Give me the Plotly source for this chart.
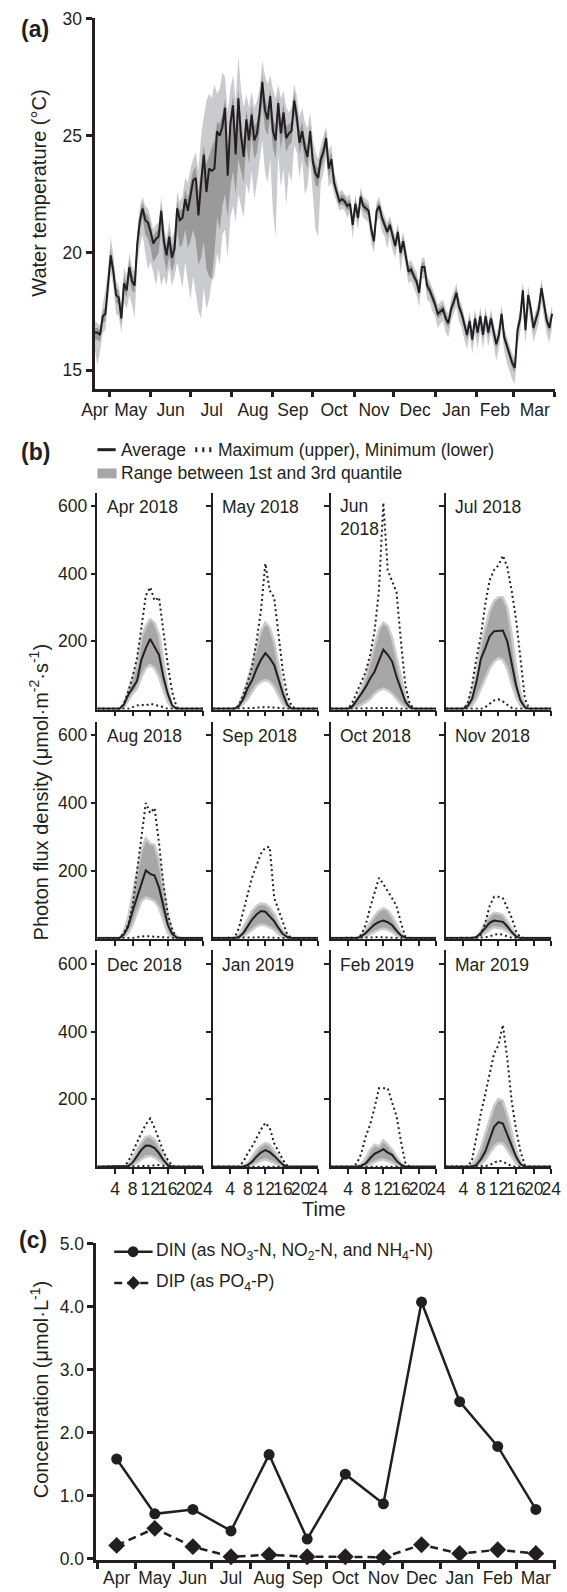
import plotly.graph_objects as go
import pandas as pd

W, H = 567, 1592
FONT = "Liberation Sans, Arial, Helvetica, sans-serif"
INK = "#231f20"

# ---------------- (a) water temperature, values every 2 days from 2018-04-20 ----------------
TEMP_START = "2018-04-20"
temp_mean = [16.6,16.6,16.5,17.3,17.4,18.6,19.9,19.2,18.2,18.1,
             17.2,18.7,18.4,19.4,18.8,18.6,20.4,21.4,21.9,21.4,
             21.3,20.9,20.4,20.6,20.7,21.8,20.5,19.9,20.7,19.8,
             20.2,21.9,21.4,21.5,22.3,21.8,22.5,23.1,23.2,21.6,
             23.0,24.2,22.6,23.6,23.5,23.6,25.2,25.0,25.4,26.2,
             23.3,25.5,26.3,24.2,26.6,25.0,24.1,25.7,24.8,25.9,
             24.8,25.1,26.0,27.3,26.1,25.7,26.7,25.2,24.8,26.4,
             25.1,26.0,24.9,25.1,25.2,26.5,25.8,24.7,25.2,24.5,
             24.1,25.2,23.9,23.4,23.2,24.0,24.3,24.9,23.6,24.0,
             23.0,22.6,22.2,22.3,22.2,22.0,22.1,21.2,22.1,21.5,
             22.4,22.0,21.9,21.8,21.0,20.5,21.8,22.0,21.5,21.2,
             20.9,21.2,20.8,20.3,20.9,20.0,20.5,19.8,19.2,19.3,
             19.0,18.8,18.3,19.4,19.4,18.6,18.4,18.1,17.8,17.4,
             17.5,17.6,17.2,17.0,17.6,17.9,18.3,17.7,17.4,16.9,
             16.5,17.1,16.3,17.2,16.6,17.3,16.5,17.3,16.6,17.2,
             16.6,16.1,16.5,17.4,16.4,16.0,15.6,15.3,15.1,16.7,
             17.2,18.4,16.7,18.2,17.6,16.8,17.2,17.6,18.5,17.7,
             17.1,16.8,17.4]
temp_q1 = [16.3,16.3,16.2,17.0,17.1,18.3,19.6,18.9,17.9,17.8,
           16.9,18.4,18.1,19.0,18.4,18.3,20.0,21.0,21.5,20.8,
           20.6,20.2,19.6,19.8,20.0,21.0,19.8,19.2,19.9,19.2,
           19.6,21.0,20.2,20.4,21.0,20.2,20.5,21.0,20.5,19.5,
           19.8,20.5,19.3,19.0,18.9,20.0,21.5,21.0,22.0,22.5,
           21.5,22.8,23.5,22.5,24.0,23.5,23.0,24.6,23.8,25.0,
           24.0,24.3,25.2,26.4,25.3,25.0,25.8,24.5,24.0,25.6,
           24.4,25.2,24.3,24.6,24.7,25.9,25.3,24.2,24.7,23.9,
           23.6,24.8,23.5,22.9,22.8,23.6,23.9,24.5,23.2,23.6,
           22.8,22.4,22.0,22.1,22.0,21.8,21.9,21.0,21.9,21.3,
           22.2,21.8,21.7,21.6,20.8,20.3,21.6,21.8,21.3,21.0,
           20.7,21.0,20.6,20.1,20.7,19.8,20.3,19.6,19.0,19.1,
           18.8,18.6,18.1,19.2,19.2,18.4,18.2,17.9,17.6,17.2,
           17.3,17.4,17.0,16.8,17.4,17.7,18.1,17.5,17.2,16.7,
           16.3,16.9,16.1,17.0,16.4,17.1,16.3,17.1,16.4,17.0,
           16.4,15.9,16.3,17.2,16.2,15.8,15.4,15.1,14.9,16.5,
           17.0,18.2,16.5,18.0,17.4,16.6,17.0,17.4,18.3,17.5,
           16.9,16.6,17.2]
temp_q3 = [16.8,16.8,16.7,17.5,17.7,18.9,20.2,19.5,18.5,18.4,
           17.5,19.0,18.7,19.7,19.1,18.9,20.7,21.7,22.2,21.7,
           21.6,21.2,20.7,20.9,21.0,22.1,20.8,20.3,21.0,20.2,
           20.6,22.2,21.8,21.9,22.7,22.3,23.0,23.5,23.7,22.6,
           23.6,24.6,23.8,24.2,24.5,24.8,25.6,25.5,25.9,26.6,
           24.5,26.0,26.7,25.2,27.0,25.6,24.8,26.1,25.4,26.3,
           25.4,25.6,26.4,27.6,26.6,26.2,27.0,25.8,25.4,26.8,
           25.6,26.4,25.4,25.5,25.6,26.9,26.2,25.2,25.6,24.9,
           24.5,25.5,24.3,23.8,23.6,24.3,24.6,25.2,24.0,24.3,
           23.3,22.8,22.4,22.5,22.4,22.2,22.3,21.4,22.3,21.7,
           22.6,22.2,22.1,22.0,21.2,20.7,22.0,22.2,21.7,21.4,
           21.1,21.4,21.0,20.5,21.1,20.2,20.7,20.0,19.4,19.5,
           19.2,19.0,18.5,19.6,19.6,18.8,18.6,18.3,18.0,17.6,
           17.7,17.8,17.4,17.2,17.8,18.1,18.5,17.9,17.6,17.1,
           16.7,17.3,16.5,17.4,16.8,17.5,16.7,17.5,16.8,17.4,
           16.8,16.3,16.7,17.6,16.6,16.2,15.8,15.5,15.3,16.9,
           17.4,18.6,16.9,18.4,17.8,17.0,17.4,17.8,18.7,17.9,
           17.3,17.0,17.6]
temp_min = [15.9,15.2,15.8,16.6,16.7,17.9,19.2,18.5,17.4,17.3,
            16.6,17.9,17.6,18.2,17.8,17.2,19.5,20.3,20.8,20.0,
            19.3,19.6,19.2,18.6,19.3,18.6,19.0,18.6,19.4,18.6,
            19.0,19.6,19.0,18.5,19.6,18.8,18.0,19.0,18.2,17.5,
            17.2,18.5,17.6,18.0,18.8,19.0,20.0,19.5,20.8,21.0,
            19.8,21.5,22.0,21.3,22.5,22.0,21.5,23.0,22.5,23.5,
            22.3,23.0,24.0,24.8,23.5,23.0,24.0,21.8,20.7,24.2,
            22.8,23.6,22.0,23.5,23.0,24.6,24.3,23.2,24.0,22.5,
            22.8,24.0,22.5,21.0,20.7,23.0,23.4,24.1,22.8,23.0,
            22.5,22.1,21.8,21.9,21.8,21.5,21.7,20.6,21.6,21.0,
            21.9,21.5,21.4,21.3,20.4,20.0,21.3,21.5,20.9,20.7,
            20.2,20.7,20.1,19.8,20.4,19.2,20.0,19.3,18.7,18.8,
            18.5,18.2,17.7,18.9,18.9,18.0,17.9,17.5,17.3,16.8,
            17.0,17.1,16.6,16.4,17.1,17.4,17.7,17.1,16.8,16.3,
            15.9,16.5,15.7,16.6,15.9,16.7,15.9,16.7,16.0,16.6,
            16.1,15.4,15.9,16.8,15.8,15.3,14.9,14.6,14.4,16.0,
            16.6,17.8,16.1,17.6,17.0,16.2,16.6,17.0,17.9,17.1,
            16.5,16.2,16.8]
temp_max = [17.1,17.0,16.9,17.8,18.4,19.3,20.7,19.9,18.8,18.6,
            17.8,19.4,19.0,20.0,19.4,19.2,21.0,22.0,22.4,22.0,
            21.9,21.5,21.0,21.2,21.3,22.4,21.1,20.6,21.4,20.6,
            21.0,22.6,22.2,22.4,23.2,23.0,23.6,24.0,24.3,23.5,
            25.0,25.8,26.5,26.8,26.6,27.2,26.8,27.0,27.7,27.5,
            26.0,27.0,27.6,26.5,28.4,27.0,26.2,26.8,26.2,26.9,
            26.2,26.5,27.0,28.2,27.6,27.2,27.6,27.0,26.6,27.2,
            26.6,26.9,26.2,26.0,26.2,27.2,26.7,25.8,26.2,25.6,
            25.3,26.0,24.9,24.3,24.0,24.6,25.0,25.4,24.4,24.6,
            23.5,23.0,22.6,22.7,22.5,22.4,22.5,21.6,22.5,21.9,
            22.8,22.4,22.3,22.2,21.4,20.9,22.2,22.4,21.9,21.6,
            21.3,21.6,21.2,20.7,21.3,20.4,20.9,20.2,19.6,19.7,
            19.4,19.2,18.7,19.8,19.8,19.0,18.8,18.5,18.2,17.8,
            17.9,18.0,17.6,17.4,18.0,18.4,18.7,18.1,17.8,17.3,
            16.9,17.5,16.7,17.6,17.0,17.7,16.9,17.7,17.0,17.6,
            17.0,16.5,16.9,17.8,16.8,16.4,16.0,15.7,15.5,17.1,
            17.6,18.8,17.1,18.6,18.0,17.2,17.6,18.0,18.9,18.1,
            17.5,17.2,17.8]
temp_month_starts = ["2018-05-01","2018-06-01","2018-07-01","2018-08-01","2018-09-01","2018-10-01",
                     "2018-11-01","2018-12-01","2019-01-01","2019-02-01","2019-03-01","2019-04-01"]
temp_label_dates = ["2018-04-20","2018-05-17","2018-06-16","2018-07-17","2018-08-17","2018-09-16",
                    "2018-10-17","2018-11-16","2018-12-17","2019-01-17","2019-02-15","2019-03-17"]
temp_label_text = ["Apr","May","Jun","Jul","Aug","Sep","Oct","Nov","Dec","Jan","Feb","Mar"]
temp_yticks = [15, 20, 25, 30]

# ---------------- (b) photon flux density, hourly 0..24 ----------------
pfd_months = ["Apr 2018","May 2018","Jun<br>2018","Jul 2018","Aug 2018","Sep 2018",
              "Oct 2018","Nov 2018","Dec 2018","Jan 2019","Feb 2019","Mar 2019"]
hours = list(range(25))
pfd_mean = [
    [0,0,0,0,0,0,12,41,62,82,145,180,207,185,160,95,45,10,0,0,0,0,0,0,0],
    [0,0,0,0,0,0,8,30,62,85,118,145,165,150,130,85,45,12,0,0,0,0,0,0,0],
    [0,0,0,0,0,8,25,45,65,90,110,145,175,160,140,95,55,22,5,0,0,0,0,0,0],
    [0,0,0,0,0,8,30,80,148,180,215,230,232,232,200,130,70,25,5,0,0,0,0,0,0],
    [0,0,0,0,0,0,10,35,80,120,165,200,190,185,150,90,40,12,2,0,0,0,0,0,0],
    [0,0,0,0,0,0,3,15,35,55,70,80,78,65,50,30,12,3,0,0,0,0,0,0,0],
    [0,0,0,0,0,0,0,5,15,28,40,48,52,47,38,22,8,1,0,0,0,0,0,0,0],
    [0,0,0,0,0,0,0,3,15,30,45,52,50,48,35,18,5,0,0,0,0,0,0,0,0],
    [0,0,0,0,0,0,0,2,12,30,50,63,62,55,40,20,5,0,0,0,0,0,0,0,0],
    [0,0,0,0,0,0,0,0,5,15,30,42,49,43,32,18,6,0,0,0,0,0,0,0,0],
    [0,0,0,0,0,0,0,3,10,25,38,45,52,42,35,18,6,0,0,0,0,0,0,0,0],
    [0,0,0,0,0,0,0,5,22,45,80,118,132,128,95,60,30,8,0,0,0,0,0,0,0],
]
pfd_max = [
    [0,0,0,0,0,0,15,50,95,150,240,335,360,320,330,230,130,50,5,0,0,0,0,0,0],
    [0,0,0,0,0,0,10,42,80,125,200,290,430,350,330,215,110,40,8,0,0,0,0,0,0],
    [0,0,0,0,0,20,50,85,110,160,230,350,610,410,375,345,200,70,15,0,0,0,0,0,0],
    [0,0,0,0,0,15,70,150,217,310,381,411,425,454,420,350,265,150,30,0,0,0,0,0,0],
    [0,0,0,0,0,0,15,40,95,200,310,400,370,385,282,160,70,25,0,0,0,0,0,0,0],
    [0,0,0,0,0,0,30,80,130,180,215,250,268,270,120,85,50,10,0,0,0,0,0,0,0],
    [0,0,0,0,0,0,0,10,40,90,135,178,160,140,118,95,45,5,0,0,0,0,0,0,0],
    [0,0,0,0,0,0,0,0,10,45,95,122,122,118,90,60,20,2,0,0,0,0,0,0,0],
    [0,0,0,0,0,0,0,15,45,70,100,125,143,115,78,45,20,3,0,0,0,0,0,0,0],
    [0,0,0,0,0,0,0,15,40,60,85,110,130,115,70,45,20,3,0,0,0,0,0,0,0],
    [0,0,0,0,0,0,10,40,90,125,175,232,232,232,190,150,75,12,0,0,0,0,0,0,0],
    [0,0,0,0,0,0,20,95,159,215,275,335,360,420,320,195,110,45,5,0,0,0,0,0,0],
]
pfd_min = [
    [0,0,0,0,0,0,0,0,5,10,12,10,15,12,10,5,0,0,0,0,0,0,0,0,0],
    [0,0,0,0,0,0,0,0,0,2,4,5,6,5,4,2,0,0,0,0,0,0,0,0,0],
    [0,0,0,0,0,0,0,0,0,1,2,2,3,2,2,1,0,0,0,0,0,0,0,0,0],
    [0,0,0,0,0,0,0,0,0,5,15,25,28,22,12,3,0,0,0,0,0,0,0,0,0],
    [0,0,0,0,0,0,0,0,0,3,5,6,5,4,2,1,0,0,0,0,0,0,0,0,0],
    [0,0,0,0,0,0,0,0,0,1,2,3,3,2,1,0,0,0,0,0,0,0,0,0,0],
    [0,0,0,0,0,0,0,0,0,1,2,3,3,2,1,0,0,0,0,0,0,0,0,0,0],
    [0,0,0,0,0,0,0,0,0,2,5,10,12,10,5,1,0,0,0,0,0,0,0,0,0],
    [0,0,0,0,0,0,0,0,0,0,1,2,3,4,5,3,0,0,0,0,0,0,0,0,0],
    [0,0,0,0,0,0,0,0,0,0,1,2,2,2,1,0,0,0,0,0,0,0,0,0,0],
    [0,0,0,0,0,0,0,0,0,0,0,1,2,1,0,0,0,0,0,0,0,0,0,0,0],
    [0,0,0,0,0,0,0,0,0,2,5,12,18,15,8,2,0,0,0,0,0,0,0,0,0],
]
pfd_q3 = [
    [0,0,0,0,0,0,15,55,95,130,210,245,265,255,220,140,60,12,0,0,0,0,0,0,0],
    [0,0,0,0,0,0,12,45,85,130,180,230,255,240,200,130,65,20,0,0,0,0,0,0,0],
    [0,0,0,0,0,10,30,60,95,140,190,235,255,245,210,150,85,35,10,0,0,0,0,0,0],
    [0,0,0,0,0,15,50,110,190,240,290,320,330,330,300,220,120,45,10,0,0,0,0,0,0],
    [0,0,0,0,0,0,20,60,130,200,260,295,280,275,230,150,70,20,5,0,0,0,0,0,0],
    [0,0,0,0,0,0,8,30,55,80,95,102,100,90,72,45,20,5,0,0,0,0,0,0,0],
    [0,0,0,0,0,0,0,8,25,45,65,80,88,82,65,40,15,2,0,0,0,0,0,0,0],
    [0,0,0,0,0,0,0,3,20,45,65,75,73,68,50,28,8,0,0,0,0,0,0,0,0],
    [0,0,0,0,0,0,0,5,25,50,72,88,90,80,60,35,10,0,0,0,0,0,0,0,0],
    [0,0,0,0,0,0,0,0,10,28,48,62,70,65,48,28,8,0,0,0,0,0,0,0,0],
    [0,0,0,0,0,0,0,8,25,50,65,60,78,65,50,30,10,0,0,0,0,0,0,0,0],
    [0,0,0,0,0,0,5,25,55,95,140,180,200,195,155,100,50,15,2,0,0,0,0,0,0],
]
pfd_q1 = [
    [0,0,0,0,0,0,5,25,45,60,95,120,130,120,95,55,20,3,0,0,0,0,0,0,0],
    [0,0,0,0,0,0,3,15,30,50,70,80,85,80,65,40,15,3,0,0,0,0,0,0,0],
    [0,0,0,0,0,0,5,12,20,30,45,55,60,55,45,30,15,5,0,0,0,0,0,0,0],
    [0,0,0,0,0,0,10,30,60,90,120,140,150,145,120,75,35,10,0,0,0,0,0,0,0],
    [0,0,0,0,0,0,3,15,40,75,110,120,115,110,90,50,15,3,0,0,0,0,0,0,0],
    [0,0,0,0,0,0,0,5,15,25,35,40,38,32,25,12,4,0,0,0,0,0,0,0,0],
    [0,0,0,0,0,0,0,0,5,12,20,25,28,25,18,8,2,0,0,0,0,0,0,0,0],
    [0,0,0,0,0,0,0,0,8,15,25,32,30,28,20,10,2,0,0,0,0,0,0,0,0],
    [0,0,0,0,0,0,0,0,5,12,22,30,32,28,18,8,2,0,0,0,0,0,0,0,0],
    [0,0,0,0,0,0,0,0,0,5,12,18,22,18,12,5,1,0,0,0,0,0,0,0,0],
    [0,0,0,0,0,0,0,0,2,8,15,20,22,18,12,5,1,0,0,0,0,0,0,0,0],
    [0,0,0,0,0,0,0,2,8,20,40,60,70,68,50,28,10,2,0,0,0,0,0,0,0],
]
pfd_xticks = [4, 8, 12, 16, 20, 24]
pfd_yticks = [200, 400, 600]

# ---------------- (c) nutrients ----------------
nut_months = ["Apr","May","Jun","Jul","Aug","Sep","Oct","Nov","Dec","Jan","Feb","Mar"]
din = [1.58, 0.71, 0.78, 0.44, 1.65, 0.31, 1.34, 0.87, 4.07, 2.49, 1.78, 0.78]
dip = [0.21, 0.48, 0.19, 0.03, 0.06, 0.03, 0.03, 0.02, 0.22, 0.08, 0.14, 0.08]
nut_yticks = [0, 1, 2, 3, 4, 5]
nut_yticktext = ["0.0", "1.0", "2.0", "3.0", "4.0", "5.0"]

# ---------------- helpers (pixel -> paper) ----------------
def fx(p):
    return p / W

def fy(p):
    return 1 - p / H

fig = go.Figure()

def add_band(x, lo, hi, fillcolor, xa, ya, edge_color=None, edge_w=0):
    ec = edge_color or fillcolor
    fig.add_trace(go.Scatter(x=x, y=lo, mode="lines", line=dict(width=edge_w, color=ec),
                             xaxis=xa, yaxis=ya, hoverinfo="skip", showlegend=False))
    fig.add_trace(go.Scatter(x=x, y=hi, mode="lines", fill="tonexty", fillcolor=fillcolor,
                             line=dict(width=edge_w, color=ec),
                             xaxis=xa, yaxis=ya, hoverinfo="skip", showlegend=False))

# (a)
dates = pd.date_range(TEMP_START, periods=len(temp_mean), freq="2D")
add_band(dates, temp_min, temp_max, "#c9cbcf", "x", "y")
add_band(dates, temp_q1, temp_q3, "#9a9a9a", "x", "y")
fig.add_trace(go.Scatter(x=dates, y=temp_mean, mode="lines", line=dict(color=INK, width=2),
                         xaxis="x", yaxis="y", showlegend=False))

# (b)
for i, name in enumerate(pfd_months):
    n = i + 2
    xa, ya = f"x{n}", f"y{n}"
    add_band(hours, pfd_q1[i], pfd_q3[i], "#a7a7a7", xa, ya, edge_color="#cbcbcb", edge_w=2.5)
    for series in (pfd_max[i], pfd_min[i]):
        fig.add_trace(go.Scatter(x=hours, y=series, mode="lines",
                                 line=dict(color=INK, width=2, dash="2px,3px"),
                                 xaxis=xa, yaxis=ya, showlegend=False))
    fig.add_trace(go.Scatter(x=hours, y=pfd_mean[i], mode="lines", line=dict(color=INK, width=2),
                             xaxis=xa, yaxis=ya, showlegend=False))

# (c)
fig.add_trace(go.Scatter(x=nut_months, y=din, mode="lines+markers",
                         line=dict(color=INK, width=2.5),
                         marker=dict(symbol="circle", size=11, color=INK),
                         cliponaxis=False, xaxis="x14", yaxis="y14", showlegend=False))
fig.add_trace(go.Scatter(x=nut_months, y=dip, mode="lines+markers",
                         line=dict(color=INK, width=2.5, dash="8px,5px"),
                         marker=dict(symbol="diamond", size=13, color=INK),
                         cliponaxis=False, xaxis="x14", yaxis="y14", showlegend=False))

# ---------------- layout ----------------
TICK = 17.5
tickfont = dict(size=TICK, color=INK, family=FONT)
base = dict(showgrid=False, zeroline=False, showline=True, linecolor=INK,
            ticks="outside", tickcolor=INK, tickfont=tickfont, tickangle=0)

layout = dict(width=W, height=H, margin=dict(l=0, r=0, t=0, b=0, pad=0), autosize=False,
              paper_bgcolor="white", plot_bgcolor="white", showlegend=False,
              font=dict(family=FONT, size=17, color=INK))

layout["xaxis"] = dict(base, type="date", domain=[fx(85), fx(565)], anchor="y",
                       range=["2018-04-19 20:00", "2019-04-01 06:00"],
                       tickmode="array", tickvals=temp_label_dates, ticktext=temp_label_text,
                       ticklen=3, tickcolor="rgba(0,0,0,0)", linewidth=3,
                       minor=dict(tickmode="array", tickvals=temp_month_starts, ticks="outside",
                                  ticklen=5, tickwidth=2.5, tickcolor=INK, showgrid=False))
layout["yaxis"] = dict(base, domain=[fy(383.4), fy(8.3)], anchor="x", range=[14.2, 30.02],
                       tickmode="array", tickvals=temp_yticks, ticklen=6, tickwidth=2.5, linewidth=3)

B_COL_X0 = [88, 208, 331, 451]
B_W = 110
B_ROW_ZERO = [707.3, 939.3, 1170.7]
B_SCALE = 0.342
B_RANGE = [-2, 640]
for i in range(12):
    n = i + 2
    r, c = divmod(i, 4)
    x0 = B_COL_X0[c]
    z = B_ROW_ZERO[r]
    layout[f"xaxis{n}"] = dict(base, domain=[fx(x0), fx(x0 + B_W)], anchor=f"y{n}", range=[0, 24],
                               tickmode="array", tickvals=pfd_xticks, ticklen=5, tickwidth=1.5,
                               linewidth=1.8, showticklabels=(r == 2), ticklabeloverflow="allow")
    layout[f"yaxis{n}"] = dict(base, domain=[fy(z - B_RANGE[0] * B_SCALE), fy(z - B_RANGE[1] * B_SCALE)],
                               anchor=f"x{n}", range=B_RANGE, tickmode="array", tickvals=pfd_yticks,
                               ticklen=5, tickwidth=1.5, linewidth=1.5, showticklabels=(c == 0))

layout["xaxis14"] = dict(base, type="category", categoryorder="array", categoryarray=nut_months,
                         domain=[fx(87), fx(566)], anchor="y14", range=[-0.53, 11.53],
                         tickson="boundaries", ticklen=6, tickwidth=2.5, linewidth=3)
layout["yaxis14"] = dict(base, domain=[fy(1568.6), fy(1248.3)], anchor="x14", range=[-0.02, 5.0],
                         tickmode="array", tickvals=nut_yticks, ticktext=nut_yticktext,
                         ticklen=6, tickwidth=2.5, linewidth=3)

ann = []

def txt(x, y, s, size=17, xanchor="left", yanchor="middle", angle=0):
    ann.append(dict(x=fx(x), y=fy(y), xref="paper", yref="paper", text=s, showarrow=False,
                    xanchor=xanchor, yanchor=yanchor, textangle=angle, align="left",
                    font=dict(size=size, color=INK, family=FONT)))

TITLE = 20
# panel letters
txt(23, 19, "<b>(a)</b>", size=23, xanchor="center")
txt(23, 447, "<b>(b)</b>", size=23, xanchor="center")
txt(21, 1245, "<b>(c)</b>", size=23, xanchor="center")

# axis titles
txt(27, 185, "Water temperature (°C)", size=TITLE, xanchor="center", angle=-90)
txt(27, 791, "Photon flux density (μmol·m<sup>-2</sup>·s<sup>-1</sup>)", size=TITLE, xanchor="center", angle=-90)
txt(324, 1213, "Time", size=TITLE, xanchor="center")
txt(27, 1396, "Concentration (μmol·L<sup>-1</sup>)", size=TITLE, xanchor="center", angle=-90)

# subplot titles
for i, name in enumerate(pfd_months):
    r, c = divmod(i, 4)
    x0 = B_COL_X0[c]
    ytick600 = B_ROW_ZERO[r] - 600 * B_SCALE
    if "<br>" in name:
        txt(x0 + 8, ytick600 + 12, name, size=17.5)
    else:
        txt(x0 + 8, ytick600 + 1, name, size=17.5)

# legend (b)
txt(111, 445, "Average", size=17.5)
txt(212, 445, "Maximum (upper), Minimum (lower)", size=17.5)
txt(111, 469, "Range between 1st and 3rd quantile", size=17.5)
# legend (c)
txt(147, 1256.7, "DIN (as NO<sub>3</sub>-N, NO<sub>2</sub>-N, and NH<sub>4</sub>-N)", size=17.5)
txt(147, 1288.3, "DIP (as PO<sub>4</sub>-P)", size=17.5)

layout["annotations"] = ann

shapes = []
def pline(x0, y0, x1, y1, w, dash="solid"):
    shapes.append(dict(type="line", xref="paper", yref="paper", x0=fx(x0), y0=fy(y0), x1=fx(x1), y1=fy(y1),
                       line=dict(color=INK, width=w, dash=dash)))

pline(88, 445, 107, 445, 3)
pline(190, 445, 208, 445, 5, dash="2px,5px")
shapes.append(dict(type="rect", xref="paper", yref="paper", x0=fx(88), x1=fx(108), y0=fy(474), y1=fy(464),
                   fillcolor="#a7a7a7", line=dict(width=0)))
pline(105.5, 1256.7, 145.5, 1256.7, 2.5)
shapes.append(dict(type="circle", xref="paper", yref="paper", x0=fx(119.7), x1=fx(130.7),
                   y0=fy(1262.2), y1=fy(1251.2), fillcolor=INK, line=dict(width=0)))
pline(105.5, 1288.3, 145.5, 1288.3, 2.5, dash="8px,5px")
cx, cy, d = 125.5, 1288.3, 7
shapes.append(dict(type="path", xref="paper", yref="paper",
                   path=f"M {fx(cx-d)},{fy(cy)} L {fx(cx)},{fy(cy-d)} L {fx(cx+d)},{fy(cy)} L {fx(cx)},{fy(cy+d)} Z",
                   fillcolor=INK, line=dict(width=0)))
layout["shapes"] = shapes

fig.update_layout(layout)
fig.write_html("out.html", config={"displayModeBar": False},
               post_script="document.body.style.margin='0px';document.body.style.overflow='hidden';")
